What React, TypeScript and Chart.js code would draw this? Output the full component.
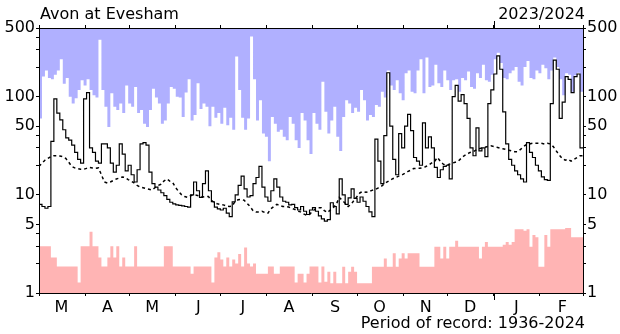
import React, { useEffect, useRef } from 'react';
import { Chart, registerables } from 'chart.js';

Chart.register(...registerables);

// Hydrological year March 2023 – February 2024, day 0 = 1 March 2023
const MONTHS = ['M', 'A', 'M', 'J', 'J', 'A', 'S', 'O', 'N', 'D', 'J', 'F'];
const MONTH_STARTS = [0, 31, 61, 92, 122, 153, 184, 214, 245, 275, 306, 337, 366];
const YEAR_START = 306;
const DAYS_IN_YEAR = 366;

const Y_TICKS = [1, 2, 3, 4, 5, 10, 20, 30, 40, 50, 100, 200, 300, 400, 500];
const Y_LABELS = [1, 5, 10, 50, 100, 500];

const STATION = 'Avon at Evesham';
const YEAR_LABEL = '2023/2024';
const RECORD_LABEL = 'Period of record: 1936-2024';

// one value per two days (m³/s)
const STEP_DAYS = 2;

const FLOW_2023 = [
  8.0, 7.6, 7.3, 7.6, 35, 95, 68, 58, 46, 38,
  36, 32, 27, 23, 21, 95, 110, 30, 27, 22,
  21, 33, 33, 30, 21, 17, 20, 33, 26, 17.5,
  20, 16, 13.5, 18, 33, 34, 32, 17, 13, 12,
  11.2, 10.5, 9.8, 9.0, 8.4, 8.1, 7.9, 7.8, 7.7, 7.6,
  7.5, 10, 13.5, 11, 9.4, 13, 17.5, 11, 8.5, 7.5,
  7.2, 7.0, 7.3, 6.5, 6.0, 8.5, 10, 12.5, 15.5, 11.5,
  9.5, 9.8, 13, 15, 19.5, 12, 9.5, 8.6, 11, 14.5,
  12, 9.5, 8.6, 8.4, 7.9, 8.0, 7.4, 7.0, 7.6, 6.8,
  6.3, 7.0, 7.4, 6.8, 6.1, 5.7, 5.4, 5.6, 8.3, 7.6,
  6.4, 14.5, 10, 8.0, 9.3, 11.5, 9.2, 8.4, 9.5, 8.6,
  7.6, 6.7, 6.0, 37, 22, 13, 40, 175, 50, 23,
  16, 42, 30, 50, 66, 45, 24, 22, 20, 54,
  30, 39, 30, 19, 15, 18, 19.5, 20, 14.5, 100,
  130, 90, 105, 85, 60, 30, 25, 48, 28, 30,
  24.5, 85, 117, 170, 260, 190, 70, 33, 23, 20,
  17.5, 16, 14.5, 13.5, 34, 27, 24, 20, 17.5, 15.2,
  14.3, 14, 85, 235, 190, 60, 88, 160, 150, 110,
  160, 170, 30,
];

const MAX_FLOW = [
  60, 160, 185, 155, 150, 167, 185, 240, 135, 155,
  100, 85, 96, 117, 147, 130, 150, 117, 103, 98,
  380, 117, 79, 49, 108, 79, 73, 85, 68, 130,
  85, 79, 125, 68, 73, 53, 49, 73, 120, 98,
  85, 53, 57, 85, 125, 120, 100, 98, 62, 110,
  150, 57, 65, 137, 75, 85, 79, 50, 79, 61,
  68, 53, 77, 51, 61, 46, 257, 117, 61, 46,
  60, 410, 150, 57, 92, 42, 39, 22, 62, 53,
  44, 46, 39, 36, 62, 53, 36, 30, 68, 57,
  36, 26, 68, 53, 46, 142, 70, 42, 57, 79,
  39, 28, 62, 92, 85, 68, 77, 70, 117, 92,
  57, 65, 62, 82, 79, 112, 98, 185, 130, 117,
  147, 108, 92, 173, 185, 112, 108, 185, 240, 108,
  250, 125, 130, 211, 137, 125, 185, 147, 117, 147,
  150, 112, 155, 147, 180, 125, 120, 173, 155, 211,
  147, 142, 167, 240, 280, 220, 155, 150, 173, 185,
  200, 142, 130, 200, 230, 155, 150, 185, 173, 211,
  195, 150, 185, 250, 200, 150, 103, 173, 167, 112,
  165, 175, 112,
];

const MIN_FLOW = [
  3.0, 3.0, 3.0, 3.0, 2.3, 2.3, 1.86, 1.86, 1.86, 1.86,
  1.86, 1.86, 1.86, 1.28, 3.0, 3.0, 3.0, 4.2, 3.0, 3.0,
  2.3, 1.86, 1.86, 2.3, 3.0, 2.3, 3.0, 1.86, 2.3, 1.86,
  1.86, 1.86, 3.0, 1.86, 1.86, 1.86, 1.86, 1.86, 1.86, 1.86,
  1.86, 1.86, 3.0, 3.0, 3.0, 1.86, 1.86, 1.86, 1.86, 1.86,
  1.86, 1.57, 1.86, 1.86, 1.86, 1.86, 1.86, 1.86, 1.28, 2.3,
  2.6, 2.2, 1.86, 2.3, 1.86, 2.2, 2.0, 2.5, 1.86, 2.9,
  2.0, 1.86, 2.0, 1.57, 1.57, 1.57, 1.57, 1.86, 1.86, 1.57,
  1.57, 1.86, 1.86, 1.86, 1.86, 1.86, 1.28, 1.57, 1.57, 1.28,
  1.57, 1.86, 1.86, 1.86, 1.28, 1.86, 1.3, 1.65, 1.26, 1.65,
  1.26, 1.26, 1.85, 1.26, 1.65, 1.85, 1.65, 1.26, 1.26, 1.26,
  1.26, 1.26, 1.85, 1.85, 1.85, 1.85, 2.25, 1.85, 1.85, 2.54,
  1.85, 2.25, 2.54, 2.25, 2.54, 2.54, 2.54, 2.54, 1.85, 1.85,
  1.85, 1.85, 1.85, 2.96, 2.96, 2.25, 2.96, 2.25, 2.96, 2.96,
  3.41, 2.96, 2.96, 2.96, 2.96, 2.96, 2.96, 2.96, 2.25, 2.96,
  3.3, 2.96, 2.96, 2.96, 2.96, 2.96, 3.1, 3.3, 3.1, 3.3,
  4.45, 4.45, 4.45, 4.3, 4.45, 2.96, 3.9, 3.7, 1.85, 1.85,
  3.9, 2.96, 4.45, 4.45, 4.45, 4.45, 4.45, 4.6, 4.6, 3.69,
  3.69, 3.69, 3.69,
];

const MEDIAN_FLOW = [
  19.5, 21, 22.5, 23.5, 24.5, 25, 25, 24.8, 24.5, 23.5,
  21.5, 19.5, 18.8, 18.5, 18.2, 18.2, 18.6, 19, 18.8, 18.6,
  18.8, 16, 13.5, 13.2, 13.5, 14, 14.5, 14.8, 15.2, 15,
  14.3, 13.8, 13.2, 12.5, 12, 11.8, 11.6, 11.4, 11.2, 11.8,
  12.4, 12.8, 13.8, 14.5, 13.8, 13.3, 11.8, 10.8, 10, 9.6,
  9.4, 9.8, 10, 9.9, 9.7, 9.5, 9.6, 9.6, 8.8, 8.3,
  8.1, 8.0, 7.9, 7.7, 7.6, 7.7, 8.6, 8.9, 9.0, 8.8,
  8.2, 7.6, 6.9, 6.7, 6.7, 6.8, 6.6, 6.5, 7.2, 7.6,
  8.0, 7.8, 7.6, 7.6, 7.5, 7.3, 7.1, 6.8, 6.7, 6.4,
  6.2, 6.3, 6.8, 7.2, 7.4, 7.4, 6.9, 6.6, 7.0, 7.4,
  8.0, 9.4, 8.8, 8.2, 7.6, 8.0, 8.8, 9.6, 10.5, 10.8,
  10.6, 10.8, 11.1, 11.3, 11.7, 12.1, 12.8, 13.5, 14.0, 14.6,
  15.0, 15.5, 15.9, 16.5, 17.2, 17.8, 18.5, 18.6, 18.6, 18.9,
  19.3, 20, 21, 21.7, 24, 22, 20.5, 20, 20.5, 21,
  21.5, 22, 23.5, 25, 26, 27, 27.5, 28.5, 29.5, 30,
  30.5, 31, 31.5, 31, 30.5, 30, 29.5, 29, 28.5, 28,
  27.5, 27.5, 29, 31, 32.5, 33, 33.5, 33.5, 33.5, 33.5,
  33, 33.5, 33, 31, 28, 25.5, 23.5, 22.5, 23, 22,
  23, 24, 25,
];

const toPoints = (values: number[]) => {
  const pts = values.map((y, i) => ({ x: i * STEP_DAYS, y }));
  pts.push({ x: DAYS_IN_YEAR, y: values[values.length - 1] });
  return pts;
};

const FONT = '"DejaVu Sans", sans-serif';

const frame = { display: true, color: '#000', width: 1, z: 1 };
const tickGrid = { drawOnChartArea: false, drawTicks: true, tickLength: 3, color: '#000', tickWidth: 1 };

const textPlugin = {
  id: 'hydroText',
  afterDraw(chart: any) {
    const { ctx, chartArea } = chart;
    const xs = chart.scales.x;
    ctx.save();
    ctx.fillStyle = '#000';
    ctx.font = `16px ${FONT}`;
    ctx.textBaseline = 'alphabetic';
    ctx.textAlign = 'left';
    ctx.fillText(STATION, chartArea.left + 1, chartArea.top - 9);
    ctx.textAlign = 'right';
    ctx.fillText(YEAR_LABEL, chartArea.right + 2, chartArea.top - 9);
    ctx.fillText(RECORD_LABEL, chartArea.right + 2, chartArea.bottom + 35);
    // longer tick marking the calendar year boundary
    const px = Math.round(xs.getPixelForValue(YEAR_START)) + 0.5;
    ctx.strokeStyle = '#000';
    ctx.lineWidth = 1;
    ctx.beginPath();
    ctx.moveTo(px, chartArea.top - 7);
    ctx.lineTo(px, chartArea.top);
    ctx.moveTo(px, chartArea.bottom);
    ctx.lineTo(px, chartArea.bottom + 7);
    ctx.stroke();
    ctx.restore();
  },
};

export default function App() {
  const ref = useRef<HTMLCanvasElement | null>(null);

  useEffect(() => {
    if (!ref.current) return;
    Chart.defaults.font.family = FONT;
    Chart.defaults.font.size = 16;

    const monthAxis = (position: 'top' | 'bottom', showLabels: boolean, height: number) => ({
      type: 'linear' as const,
      position,
      min: 0,
      max: DAYS_IN_YEAR,
      z: 1,
      border: frame,
      grid: tickGrid,
      ticks: {
        display: showLabels,
        autoSkip: false,
        maxRotation: 0,
        minRotation: 0,
        color: '#000',
        padding: 2,
        labelOffset: 22.5,
        font: { size: 16, family: FONT },
        callback: (_v: any, i: number) => MONTHS[i] ?? '',
      },
      afterBuildTicks: (s: any) => {
        s.ticks = MONTH_STARTS.map((v) => ({ value: v }));
      },
      afterFit: (s: any) => {
        s.height = height;
      },
    });

    const flowAxis = (position: 'left' | 'right', width: number) => ({
      type: 'logarithmic' as const,
      position,
      min: 1,
      max: 500,
      z: 1,
      border: frame,
      grid: tickGrid,
      ticks: {
        autoSkip: false,
        color: '#000',
        padding: 1,
        font: { size: 16, family: FONT },
        callback: (v: any) => (Y_LABELS.includes(Number(v)) ? String(v) : ''),
      },
      afterBuildTicks: (s: any) => {
        s.ticks = Y_TICKS.map((v) => ({ value: v }));
      },
      afterFit: (s: any) => {
        s.width = width;
      },
    });

    const chart = new Chart(ref.current, {
      type: 'line',
      data: {
        datasets: [
          {
            label: '2023/2024',
            data: toPoints(FLOW_2023),
            borderColor: '#000',
            borderWidth: 1.2,
            stepped: true,
            pointRadius: 0,
            fill: false,
          },
          {
            label: 'Median',
            data: toPoints(MEDIAN_FLOW),
            borderColor: '#000',
            borderWidth: 1.5,
            borderDash: [3, 3],
            pointRadius: 0,
            fill: false,
          },
          {
            label: 'Maximum',
            data: toPoints(MAX_FLOW),
            borderColor: 'rgba(0,0,0,0)',
            borderWidth: 0,
            backgroundColor: '#b0b0ff',
            stepped: true,
            pointRadius: 0,
            fill: 'end',
          },
          {
            label: 'Minimum',
            data: toPoints(MIN_FLOW),
            borderColor: 'rgba(0,0,0,0)',
            borderWidth: 0,
            backgroundColor: '#ffb4b4',
            stepped: true,
            pointRadius: 0,
            fill: 'start',
          },
        ],
      },
      options: {
        animation: false,
        responsive: false,
        maintainAspectRatio: false,
        layout: { padding: 0 },
        plugins: {
          legend: { display: false },
          tooltip: { enabled: false },
          title: { display: false },
        },
        scales: {
          x: monthAxis('bottom', true, 41),
          xTop: monthAxis('top', false, 28),
          y: flowAxis('left', 39),
          yRight: flowAxis('right', 37),
        },
      } as any,
      plugins: [textPlugin],
    });

    return () => chart.destroy();
  }, []);

  return (
    <div style={{ position: 'absolute', left: 0, top: 0, width: 620, height: 334, background: '#fff' }}>
      <canvas ref={ref} width={620} height={334} style={{ display: 'block' }} />
    </div>
  );
}
